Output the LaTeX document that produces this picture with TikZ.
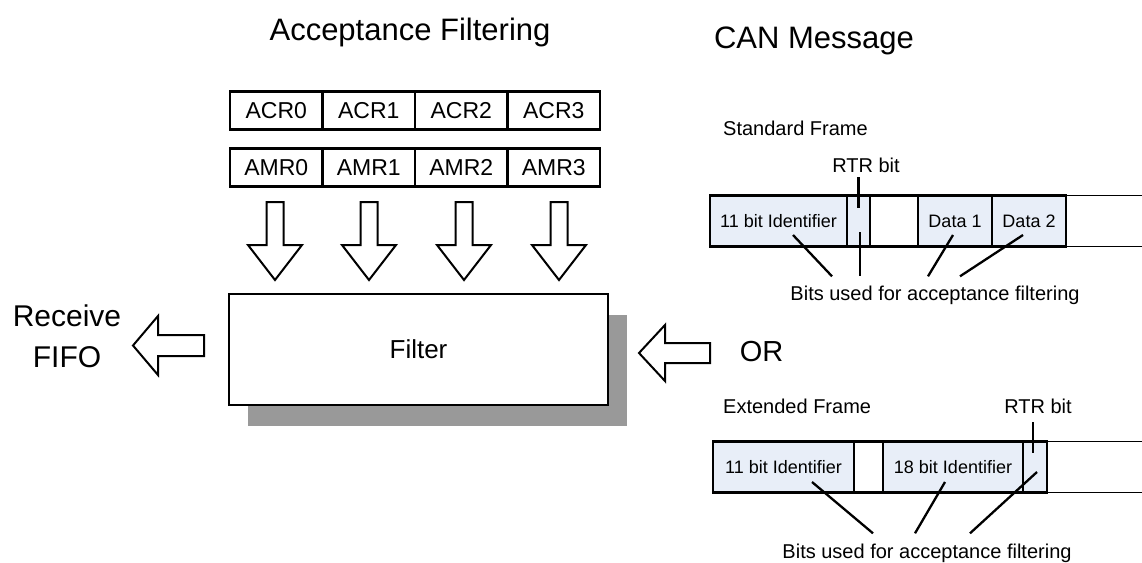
\documentclass[tikz,border=0pt]{standalone}
\usepackage{fontspec}
\setmainfont{Liberation Sans}
\usetikzlibrary{positioning,shadows}

\definecolor{fieldblue}{RGB}{232,238,248}
\definecolor{shadowgray}{RGB}{153,153,153}

\tikzset{
  reg/.style={draw, line width=2.5pt, outer sep=0pt, inner sep=0pt,
    minimum width=92.5pt, minimum height=38pt, font=\fontsize{23}{27}\selectfont},
  field/.style={draw, line width=2.5pt, outer sep=0pt, inner sep=0pt,
    fill=fieldblue, minimum height=51pt, font=\fontsize{18}{22}\selectfont},
  gapfield/.style={field, fill=white},
  blockarrow/.style={draw, line width=2pt, fill=white, line join=miter},
  leader/.style={line width=2.3pt},
  tail/.style={line width=1.2pt},
  lbl/.style={inner sep=0pt, font=\fontsize{20}{24}\selectfont},
}

\begin{document}
\begin{tikzpicture}[x=1pt, y=-1pt]
  \useasboundingbox (0,0) rectangle (1142,562);

  % titles
  \node[anchor=base, font=\fontsize{31}{36}\selectfont] (acctitle) at (410,40) {Acceptance Filtering};
  \node[anchor=base, font=\fontsize{31}{36}\selectfont] (cantitle) at (814,48) {CAN Message};

  % code and mask registers
  \node[reg, anchor=west] (acr0) at (230,110.5) {ACR0};
  \node[reg, right=0pt of acr0] (acr1) {ACR1};
  \node[reg, right=0pt of acr1] (acr2) {ACR2};
  \node[reg, right=0pt of acr2] (acr3) {ACR3};

  \node[reg, anchor=west] (amr0) at (230,167.5) {AMR0};
  \node[reg, right=0pt of amr0] (amr1) {AMR1};
  \node[reg, right=0pt of amr1] (amr2) {AMR2};
  \node[reg, right=0pt of amr2] (amr3) {AMR3};

  \foreach \x in {275,369,464,559}
    \draw[blockarrow] (\x-8.5,202) -- (\x+8.5,202) -- (\x+8.5,245) -- (\x+27,245)
      -- (\x,280) -- (\x-27,245) -- (\x-8.5,245) -- cycle;

  % filter
  \node[draw, line width=2.5pt, fill=white, outer sep=0pt, minimum width=379pt, minimum height=111pt,
    font=\fontsize{26}{30}\selectfont,
    drop shadow={shadow xshift=19pt, shadow yshift=-21pt, fill=shadowgray, opacity=1}]
    (filter) at (418.5,349.5) {Filter};

  \draw[blockarrow] (204,335) -- (158,335) -- (158,316) -- (133,345.5) -- (158,375)
    -- (158,356) -- (204,356) -- cycle;
  \node[align=center, font=\fontsize{30}{41}\selectfont] (fifo) at (67,336.5) {Receive\\FIFO};

  \draw[blockarrow] (710,343) -- (665,343) -- (665,325) -- (639,353) -- (665,381)
    -- (665,363) -- (710,363) -- cycle;
  \node[font=\fontsize{29}{34}\selectfont] (or) at (761.5,352) {OR};

  % standard frame
  \node[lbl, anchor=base west] (stdlabel) at (723,135) {Standard Frame};
  \node[lbl, anchor=base] (stdrtrlbl) at (866,172) {RTR bit};
  \node[field, minimum width=137pt, anchor=west] (stdid) at (710,221) {11 bit Identifier};
  \node[field, minimum width=23pt, right=0pt of stdid] (stdrtr) {};
  \node[gapfield, minimum width=48pt, right=0pt of stdrtr] (stdctl) {};
  \node[field, minimum width=74pt, right=0pt of stdctl] (stddata1) {Data 1};
  \node[field, minimum width=74pt, right=0pt of stddata1] (stddata2) {Data 2};
  \coordinate (stdend) at (1142,221);
  \draw[tail] (stddata2.north east) -- (stddata2.north east -| stdend);
  \draw[tail] (stddata2.south east) -- (stddata2.south east -| stdend);

  \draw[leader] ([yshift=-5pt]stdrtr.north |- stdrtrlbl.south) -- ([shift={(0,12)}]stdrtr.north);
  \node[lbl, anchor=base] (stdbits) at (935,300) {Bits used for acceptance filtering};
  \draw[leader] ([shift={(14.5,14)}]stdid.center) -- ([shift={(-103,-9)}]stdbits.north);
  \draw[leader] ([shift={(1.5,11)}]stdrtr.center) -- ([shift={(-75,-9)}]stdbits.north);
  \draw[leader] ([shift={(-2,14)}]stddata1.center) -- ([shift={(-7,-9)}]stdbits.north);
  \draw[leader] ([shift={(-6,14)}]stddata2.center) -- ([shift={(25,-9)}]stdbits.north);

  % extended frame
  \node[lbl, anchor=base west] (extlabel) at (723,413) {Extended Frame};
  \node[lbl, anchor=base] (extrtrlbl) at (1038,413) {RTR bit};
  \node[field, minimum width=141pt, anchor=west] (extid) at (713,467) {11 bit Identifier};
  \node[gapfield, minimum width=29pt, right=0pt of extid] (extctl) {};
  \node[field, minimum width=140pt, right=0pt of extctl] (extid18) {18 bit Identifier};
  \node[field, minimum width=24pt, right=0pt of extid18] (extrtr) {};
  \coordinate (extend) at (1142,467);
  \draw[tail] (extrtr.north east) -- (extrtr.north east -| extend);
  \draw[tail] (extrtr.south east) -- (extrtr.south east -| extend);

  \draw[leader] ([shift={(-2,9)}]extrtr.north |- extrtrlbl.south) -- ([shift={(-2,11)}]extrtr.north);
  \node[lbl, anchor=base] (extbits) at (927,558) {Bits used for acceptance filtering};
  \draw[leader] ([shift={(28.5,15)}]extid.center) -- ([shift={(-54,-10)}]extbits.north);
  \draw[leader] ([shift={(-8,15)}]extid18.center) -- ([shift={(-12,-10)}]extbits.north);
  \draw[leader] ([shift={(2,5)}]extrtr.center) -- ([shift={(43,-10)}]extbits.north);
\end{tikzpicture}
\end{document}
